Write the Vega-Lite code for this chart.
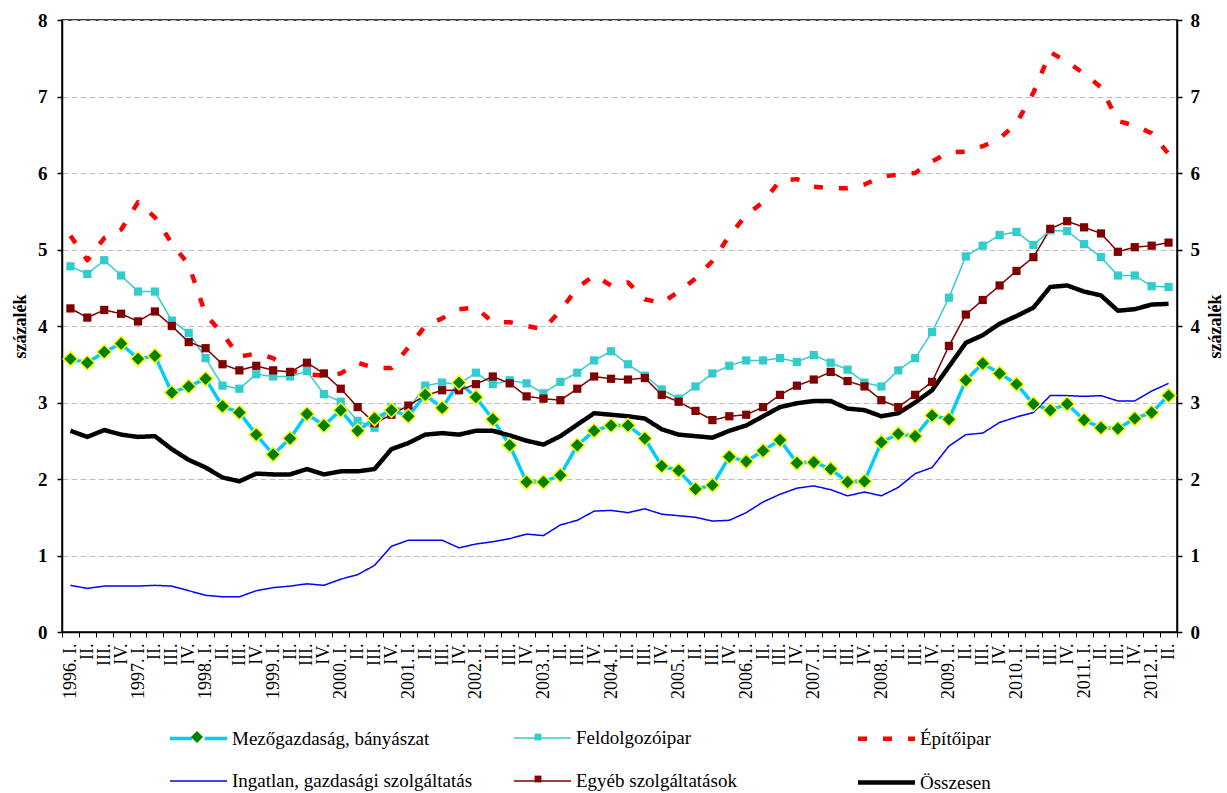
{
  "$schema": "https://vega.github.io/schema/vega-lite/v6.json",
  "width": 1115,
  "height": 612,
  "autosize": "none",
  "padding": {"left": 62, "top": 20, "right": 50, "bottom": 161},
  "background": "white",
  "data": {"values": [
    {"p":"1996. I.","m":3.57,"f":4.78,"e":5.18,"i":0.61,"o":4.23,"t":2.63},
    {"p":"1996. II.","m":3.52,"f":4.68,"e":4.86,"i":0.57,"o":4.11,"t":2.55},
    {"p":"1996. III.","m":3.66,"f":4.86,"e":5.15,"i":0.60,"o":4.21,"t":2.64},
    {"p":"1996. IV.","m":3.77,"f":4.66,"e":5.26,"i":0.60,"o":4.16,"t":2.58},
    {"p":"1997. I.","m":3.57,"f":4.45,"e":5.62,"i":0.60,"o":4.06,"t":2.55},
    {"p":"1997. II.","m":3.61,"f":4.45,"e":5.42,"i":0.61,"o":4.19,"t":2.56},
    {"p":"1997. III.","m":3.13,"f":4.07,"e":5.08,"i":0.60,"o":4.00,"t":2.39},
    {"p":"1997. IV.","m":3.21,"f":3.91,"e":4.80,"i":0.54,"o":3.79,"t":2.25},
    {"p":"1998. I.","m":3.31,"f":3.58,"e":4.15,"i":0.48,"o":3.71,"t":2.15},
    {"p":"1998. II.","m":2.95,"f":3.22,"e":3.90,"i":0.46,"o":3.50,"t":2.02},
    {"p":"1998. III.","m":2.87,"f":3.18,"e":3.60,"i":0.46,"o":3.42,"t":1.97},
    {"p":"1998. IV.","m":2.58,"f":3.37,"e":3.64,"i":0.54,"o":3.48,"t":2.07},
    {"p":"1999. I.","m":2.32,"f":3.34,"e":3.58,"i":0.58,"o":3.42,"t":2.06},
    {"p":"1999. II.","m":2.53,"f":3.34,"e":3.42,"i":0.60,"o":3.40,"t":2.06},
    {"p":"1999. III.","m":2.85,"f":3.41,"e":3.37,"i":0.63,"o":3.52,"t":2.13},
    {"p":"1999. IV.","m":2.70,"f":3.11,"e":3.35,"i":0.61,"o":3.38,"t":2.06},
    {"p":"2000. I.","m":2.90,"f":3.01,"e":3.38,"i":0.69,"o":3.18,"t":2.10},
    {"p":"2000. II.","m":2.63,"f":2.76,"e":3.52,"i":0.75,"o":2.94,"t":2.10},
    {"p":"2000. III.","m":2.79,"f":2.67,"e":3.45,"i":0.87,"o":2.73,"t":2.13},
    {"p":"2000. IV.","m":2.90,"f":2.94,"e":3.45,"i":1.12,"o":2.84,"t":2.39},
    {"p":"2001. I.","m":2.82,"f":2.91,"e":3.72,"i":1.20,"o":2.96,"t":2.47},
    {"p":"2001. II.","m":3.10,"f":3.22,"e":4.00,"i":1.20,"o":3.09,"t":2.58},
    {"p":"2001. III.","m":2.93,"f":3.26,"e":4.10,"i":1.20,"o":3.16,"t":2.60},
    {"p":"2001. IV.","m":3.26,"f":3.24,"e":4.22,"i":1.10,"o":3.16,"t":2.58},
    {"p":"2002. I.","m":3.07,"f":3.39,"e":4.24,"i":1.15,"o":3.24,"t":2.63},
    {"p":"2002. II.","m":2.78,"f":3.24,"e":4.05,"i":1.18,"o":3.34,"t":2.63},
    {"p":"2002. III.","m":2.44,"f":3.29,"e":4.05,"i":1.22,"o":3.25,"t":2.57},
    {"p":"2002. IV.","m":1.96,"f":3.25,"e":4.00,"i":1.28,"o":3.08,"t":2.50},
    {"p":"2003. I.","m":1.96,"f":3.12,"e":3.96,"i":1.26,"o":3.05,"t":2.45},
    {"p":"2003. II.","m":2.05,"f":3.27,"e":4.20,"i":1.40,"o":3.03,"t":2.56},
    {"p":"2003. III.","m":2.44,"f":3.39,"e":4.50,"i":1.46,"o":3.18,"t":2.71},
    {"p":"2003. IV.","m":2.63,"f":3.55,"e":4.66,"i":1.58,"o":3.34,"t":2.86},
    {"p":"2004. I.","m":2.70,"f":3.67,"e":4.53,"i":1.59,"o":3.31,"t":2.84},
    {"p":"2004. II.","m":2.70,"f":3.50,"e":4.57,"i":1.56,"o":3.30,"t":2.82},
    {"p":"2004. III.","m":2.53,"f":3.35,"e":4.35,"i":1.61,"o":3.32,"t":2.79},
    {"p":"2004. IV.","m":2.17,"f":3.17,"e":4.30,"i":1.54,"o":3.10,"t":2.65},
    {"p":"2005. I.","m":2.11,"f":3.05,"e":4.45,"i":1.52,"o":3.01,"t":2.58},
    {"p":"2005. II.","m":1.87,"f":3.21,"e":4.62,"i":1.50,"o":2.89,"t":2.56},
    {"p":"2005. III.","m":1.92,"f":3.38,"e":4.85,"i":1.45,"o":2.77,"t":2.54},
    {"p":"2005. IV.","m":2.29,"f":3.48,"e":5.18,"i":1.46,"o":2.82,"t":2.63},
    {"p":"2006. I.","m":2.23,"f":3.55,"e":5.45,"i":1.56,"o":2.84,"t":2.70},
    {"p":"2006. II.","m":2.37,"f":3.55,"e":5.62,"i":1.70,"o":2.94,"t":2.82},
    {"p":"2006. III.","m":2.51,"f":3.58,"e":5.90,"i":1.80,"o":3.10,"t":2.94},
    {"p":"2006. IV.","m":2.21,"f":3.53,"e":5.92,"i":1.88,"o":3.22,"t":2.99},
    {"p":"2007. I.","m":2.22,"f":3.62,"e":5.82,"i":1.91,"o":3.30,"t":3.02},
    {"p":"2007. II.","m":2.13,"f":3.52,"e":5.80,"i":1.86,"o":3.40,"t":3.02},
    {"p":"2007. III.","m":1.96,"f":3.43,"e":5.80,"i":1.78,"o":3.28,"t":2.92},
    {"p":"2007. IV.","m":1.97,"f":3.26,"e":5.85,"i":1.83,"o":3.21,"t":2.90},
    {"p":"2008. I.","m":2.48,"f":3.21,"e":5.95,"i":1.78,"o":3.03,"t":2.82},
    {"p":"2008. II.","m":2.59,"f":3.42,"e":5.98,"i":1.89,"o":2.94,"t":2.86},
    {"p":"2008. III.","m":2.56,"f":3.58,"e":6.00,"i":2.07,"o":3.10,"t":3.00},
    {"p":"2008. IV.","m":2.83,"f":3.92,"e":6.15,"i":2.15,"o":3.27,"t":3.16},
    {"p":"2009. I.","m":2.78,"f":4.37,"e":6.27,"i":2.43,"o":3.74,"t":3.47},
    {"p":"2009. II.","m":3.29,"f":4.91,"e":6.28,"i":2.58,"o":4.15,"t":3.78},
    {"p":"2009. III.","m":3.51,"f":5.05,"e":6.35,"i":2.60,"o":4.34,"t":3.88},
    {"p":"2009. IV.","m":3.38,"f":5.19,"e":6.45,"i":2.74,"o":4.53,"t":4.03},
    {"p":"2010. I.","m":3.24,"f":5.23,"e":6.65,"i":2.81,"o":4.72,"t":4.13},
    {"p":"2010. II.","m":2.98,"f":5.06,"e":7.05,"i":2.87,"o":4.90,"t":4.24},
    {"p":"2010. III.","m":2.90,"f":5.25,"e":7.58,"i":3.09,"o":5.27,"t":4.51},
    {"p":"2010. IV.","m":2.98,"f":5.24,"e":7.45,"i":3.09,"o":5.37,"t":4.53},
    {"p":"2011. I.","m":2.77,"f":5.07,"e":7.30,"i":3.08,"o":5.29,"t":4.45},
    {"p":"2011. II.","m":2.67,"f":4.90,"e":7.12,"i":3.09,"o":5.21,"t":4.40},
    {"p":"2011. III.","m":2.66,"f":4.66,"e":6.68,"i":3.02,"o":4.97,"t":4.20},
    {"p":"2011. IV.","m":2.79,"f":4.66,"e":6.62,"i":3.02,"o":5.03,"t":4.22},
    {"p":"2012. I.","m":2.87,"f":4.52,"e":6.52,"i":3.15,"o":5.05,"t":4.28},
    {"p":"2012. II.","m":3.09,"f":4.51,"e":6.25,"i":3.25,"o":5.09,"t":4.29}
  ]},
  "transform": [{"fold": ["m", "f", "e", "i", "o", "t"], "as": ["s", "v"]}],
  "encoding": {
    "x": {
      "field": "p", "type": "ordinal", "sort": null,
      "scale": {"type": "band", "paddingInner": 0, "paddingOuter": 0},
      "axis": {
        "orient": "bottom", "title": null, "labelAngle": -90,
        "labelExpr": "slice(datum.label, 6) == 'I.' ? datum.label : slice(datum.label, 6)",
        "labelFont": "Liberation Serif, Times New Roman, serif", "labelFontSize": 18, "labelColor": "black",
        "labelPadding": 6, "labelOverlap": false, "labelBound": false, "labelFlush": false,
        "tickBand": "extent", "tickSize": 5, "tickColor": "black", "tickWidth": 1,
        "domainColor": "black", "domainWidth": 1.5, "grid": false
      }
    }
  },
  "layer": [
    {
      "mark": {"type": "line", "strokeCap": "butt", "strokeJoin": "round"},
      "encoding": {
        "y": {
          "field": "v", "type": "quantitative",
          "scale": {"domain": [0, 8], "nice": false, "zero": true},
          "axis": {
            "orient": "left", "values": [0, 1, 2, 3, 4, 5, 6, 7, 8], "format": "d",
            "title": "százalék", "titleFont": "Liberation Serif, Times New Roman, serif", "titleFontSize": 18,
            "titleFontWeight": "bold", "titleColor": "black", "titlePadding": 8,
            "labelFont": "Liberation Serif, Times New Roman, serif", "labelFontSize": 19, "labelFontWeight": "bold",
            "labelColor": "black", "labelPadding": 10,
            "tickSize": 5, "tickColor": "black", "tickWidth": 1.5,
            "domainColor": "black", "domainWidth": 1.5,
            "grid": true, "gridColor": "#BFBFBF", "gridDash": [6, 3], "gridWidth": 1
          }
        },
        "stroke": {
          "field": "s", "type": "nominal", "sort": null,
          "scale": {"range": ["#00CCFF", "#33CCCC", "#FF0000", "#0000FF", "#800000", "#000000"]},
          "legend": {
            "orient": "none", "legendX": 124, "legendY": 706, "title": null, "padding": 0,
            "direction": "horizontal", "columns": 3, "gridAlign": "all", "columnPadding": 32, "rowPadding": 21,
            "symbolType": "M-2.85,0L2.85,0", "symbolSize": 400, "symbolStrokeWidth": 1.5,
            "labelFont": "Liberation Serif, Times New Roman, serif", "labelFontSize": 19, "labelColor": "black",
            "labelOffset": 21, "labelLimit": 400,
            "labelExpr": "datum.label == 'm' ? 'Mezőgazdaság, bányászat' : datum.label == 'f' ? 'Feldolgozóipar' : datum.label == 'e' ? 'Építőipar' : datum.label == 'i' ? 'Ingatlan, gazdasági szolgáltatás' : datum.label == 'o' ? 'Egyéb szolgáltatások' : 'Összesen'",
            "encode": {"symbols": {"update": {"shape": {"signal": "datum.value == 'm' ? 'M-2.85,0L-0.62,0M0.62,0L2.85,0' : 'M-2.85,0L2.85,0'"}}}}
          }
        },
        "strokeDash": {
          "field": "s", "type": "nominal", "sort": null,
          "scale": {"range": [[1, 0], [1, 0], [9, 16], [1, 0], [1, 0], [1, 0]]}
        },
        "strokeWidth": {
          "field": "s", "type": "nominal", "sort": null,
          "scale": {"type": "ordinal", "range": [3.5, 1.5, 4.5, 1.5, 1.5, 4.5]}
        }
      }
    },
    {
      "transform": [{"filter": "datum.s == 'f' || datum.s == 'o'"}],
      "mark": {"type": "point", "filled": true, "size": 585, "opacity": 1},
      "encoding": {
        "y": {
          "field": "v", "type": "quantitative",
          "scale": {"domain": [0, 8], "nice": false, "zero": true},
          "axis": {
            "orient": "right", "values": [0, 1, 2, 3, 4, 5, 6, 7, 8], "format": "d",
            "title": "százalék", "titleFont": "Liberation Serif, Times New Roman, serif", "titleFontSize": 18,
            "titleFontWeight": "bold", "titleColor": "black", "titlePadding": 7,
            "titleAngle": -90, "titleBaseline": "top",
            "labelFont": "Liberation Serif, Times New Roman, serif", "labelFontSize": 19, "labelFontWeight": "bold",
            "labelColor": "black", "labelPadding": 8,
            "tickSize": 5, "tickColor": "black", "tickWidth": 1.5,
            "domainColor": "black", "domainWidth": 1.5, "grid": false
          }
        },
        "fill": {
          "field": "s", "type": "nominal",
          "scale": {"domain": ["m", "f", "e", "i", "o", "t"], "range": ["#008000", "#33CCCC", "transparent", "transparent", "#800000", "transparent"]},
          "legend": {
            "orient": "none", "legendX": 124, "legendY": 706, "title": null, "padding": 0,
            "direction": "horizontal", "columns": 3, "gridAlign": "all", "columnPadding": 277, "rowPadding": 21,
            "symbolSize": 400, "symbolStrokeWidth": 1.5,
            "labelFontSize": 19, "labelOffset": 21, "labelExpr": "''",
            "encode": {"symbols": {"update": {
              "stroke": {"signal": "datum.value == 'm' ? '#FFFF00' : 'transparent'"},
              "strokeWidth": {"value": 1.5},
              "opacity": {"value": 1}
            }}}
          }
        },
        "shape": {
          "field": "s", "type": "nominal",
          "scale": {"domain": ["m", "f", "e", "i", "o", "t"], "range": [
            "M-2.85,0M2.85,0M0,-0.6L0.6,0L0,0.6L-0.6,0Z",
            "M-2.85,0M2.85,0M-0.34,-0.34L0.34,-0.34L0.34,0.34L-0.34,0.34Z",
            "M-2.85,0M2.85,0",
            "M-2.85,0M2.85,0",
            "M-2.85,0M2.85,0M-0.34,-0.34L0.34,-0.34L0.34,0.34L-0.34,0.34Z",
            "M-2.85,0M2.85,0"
          ]}
        }
      }
    },
    {
      "transform": [{"filter": "datum.s == 'm'"}],
      "mark": {"type": "point", "filled": true, "size": 585, "opacity": 1, "stroke": "#FFFF00", "strokeWidth": 1.5},
      "encoding": {
        "y": {
          "field": "v", "type": "quantitative",
          "scale": {"domain": [0, 8], "nice": false, "zero": true},
          "axis": null
        },
        "fill": {"field": "s", "type": "nominal"},
        "shape": {"field": "s", "type": "nominal"}
      }
    }
  ],
  "resolve": {"axis": {"y": "independent"}},
  "config": {
    "font": "Liberation Serif, Times New Roman, serif",
    "view": {"stroke": "black", "strokeWidth": 1.5}
  }
}
